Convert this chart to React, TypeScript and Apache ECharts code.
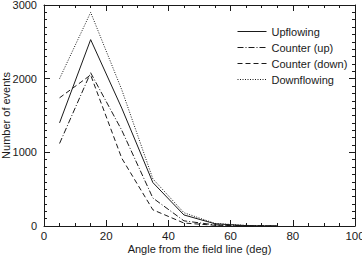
import React, { useEffect, useRef } from "react";
import * as echarts from "echarts";

const angles = [5, 15, 25, 35, 45, 55, 65, 75];
const upflowing = [1400, 2530, 1600, 590, 150, 30, 5, 0];
const counterUp = [1120, 2080, 1300, 380, 70, 15, 3, 0];
const counterDown = [1740, 2050, 920, 220, 40, 10, 2, 0];
const downflowing = [2000, 2900, 1850, 640, 180, 35, 8, 0];
const seriesNames = ["Upflowing", "Counter (up)", "Counter (down)", "Downflowing"];
const xTicks = [0, 20, 40, 60, 80, 100];
const yTicks = [0, 1000, 2000, 3000];

const FONT = "Liberation Sans, Arial, Helvetica, sans-serif";
const INK = "#1a1a1a";

export default function App() {
  const ref = useRef<HTMLDivElement>(null);
  useEffect(() => {
    document.body.style.margin = "0";
    const chart = echarts.init(ref.current!, null, { renderer: "svg" });
    const pair = (vals: number[]) => angles.map((a, i) => [a, vals[i]]);
    const dashes: any[] = ["solid", [6, 2, 1, 2], [5, 3], [1, 1.5]];
    const values = [upflowing, counterUp, counterDown, downflowing];
    const tick = { show: true, inside: true, length: 6, lineStyle: { color: INK } };
    const minor = (n: number) => ({ show: true, splitNumber: n, length: 3, lineStyle: { color: INK } });
    const line = { show: true, onZero: false, lineStyle: { color: INK, width: 1 } };
    chart.setOption({
      animation: false,
      grid: { left: 44, right: 7, top: 5, bottom: 29, containLabel: false, outerBoundsMode: "none" },
      legend: {
        show: true,
        orient: "vertical",
        left: 237,
        top: 26,
        itemWidth: 29,
        itemHeight: 10,
        itemGap: 5,
        padding: 0,
        data: seriesNames,
        itemStyle: { opacity: 0, borderWidth: 0 },
        lineStyle: { width: 1 },
        textStyle: { fontFamily: FONT, fontSize: 11, color: INK },
      },
      xAxis: [
        {
          type: "value",
          min: xTicks[0],
          max: xTicks[xTicks.length - 1],
          interval: 20,
          position: "bottom",
          axisLine: line,
          axisTick: tick,
          minorTick: minor(4),
          splitLine: { show: false },
          axisLabel: { fontFamily: FONT, fontSize: 11.5, color: INK, margin: 4 },
          name: "Angle from the field line (deg)",
          nameLocation: "middle",
          nameGap: 17,
          nameMoveOverlap: false,
          nameTextStyle: { fontFamily: FONT, fontSize: 11, color: INK },
        },
        {
          type: "value",
          min: xTicks[0],
          max: xTicks[xTicks.length - 1],
          interval: 20,
          position: "top",
          axisLine: line,
          axisTick: tick,
          minorTick: minor(4),
          splitLine: { show: false },
          axisLabel: { show: false },
        },
      ],
      yAxis: [
        {
          type: "value",
          min: yTicks[0],
          max: yTicks[yTicks.length - 1],
          interval: 1000,
          position: "left",
          axisLine: line,
          axisTick: tick,
          minorTick: minor(10),
          splitLine: { show: false },
          axisLabel: { fontFamily: FONT, fontSize: 11, color: INK, margin: 7, formatter: (v: number) => String(v) },
          name: "Number of events",
          nameLocation: "middle",
          nameGap: 33,
          nameMoveOverlap: false,
          nameTextStyle: { fontFamily: FONT, fontSize: 11, color: INK },
        },
        {
          type: "value",
          min: yTicks[0],
          max: yTicks[yTicks.length - 1],
          interval: 1000,
          position: "right",
          axisLine: line,
          axisTick: tick,
          minorTick: minor(10),
          splitLine: { show: false },
          axisLabel: { show: false },
        },
      ],
      series: seriesNames.map((name, i) => ({
        name,
        type: "line",
        xAxisIndex: 0,
        yAxisIndex: 0,
        data: pair(values[i]),
        showSymbol: false,
        symbol: "none",
        lineStyle: { color: INK, width: 1, type: dashes[i] },
        itemStyle: { color: INK },
      })),
    });
    return () => chart.dispose();
  }, []);
  return <div ref={ref} style={{ width: 362, height: 255 }} />;
}
